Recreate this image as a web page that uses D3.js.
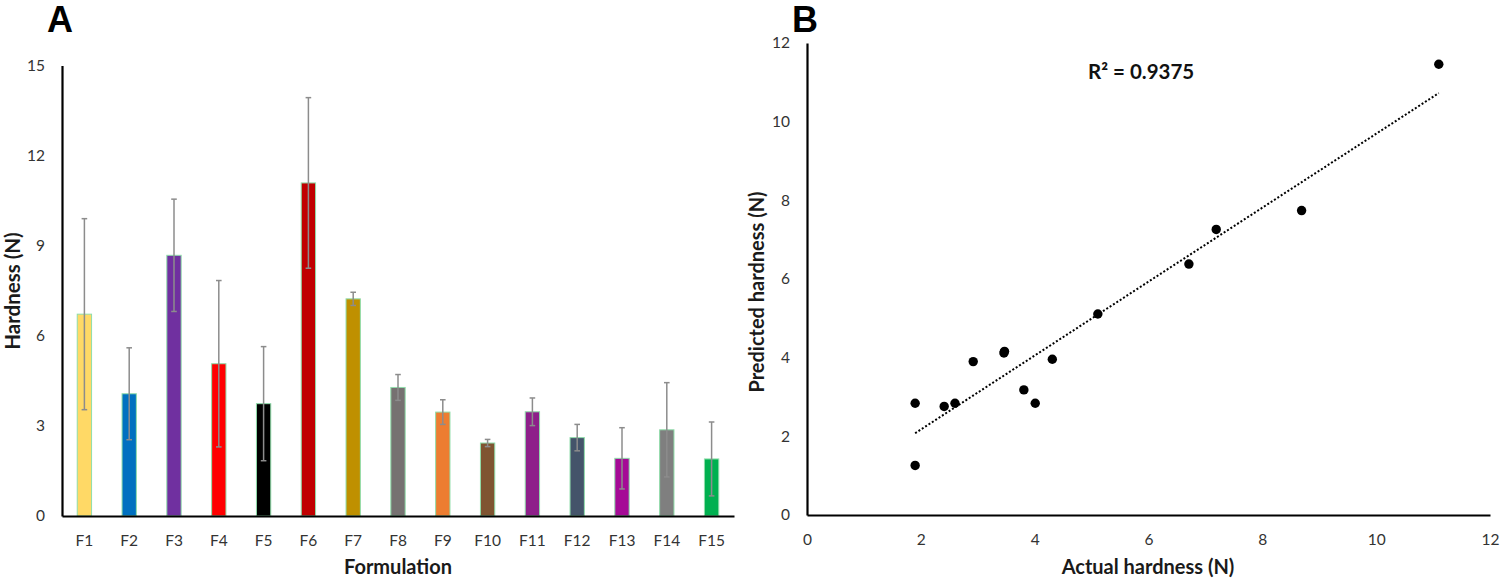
<!DOCTYPE html>
<html><head><meta charset="utf-8">
<script src="https://cdn.jsdelivr.net/npm/d3@7"></script>
<style>
html,body{margin:0;padding:0;background:#fff;}
svg{display:block;font-family:Lato,"Open Sans",sans-serif;}
</style></head>
<body><svg id="c" width="1500" height="579"></svg>
<script>
// ---- Panel A data ----
const formulations = ["F1","F2","F3","F4","F5","F6","F7","F8","F9","F10","F11","F12","F13","F14","F15"];
const hardness = [6.72,4.07,8.68,5.07,3.74,11.09,7.23,4.28,3.46,2.43,3.47,2.61,1.92,2.87,1.90];
const hardnessSD = [3.18,1.53,1.87,2.77,1.90,2.84,0.22,0.43,0.41,0.12,0.46,0.44,1.02,1.57,1.23];
const barColors = ["#FFD966","#0070C0","#7030A0","#FF0000","#000000","#C00000","#BF9000","#767171","#ED7D31","#7F5431","#8E1F8A","#44546A","#A50A96","#7F7F7F","#00B050"];
const yTicksA = [0,3,6,9,12,15];

// ---- Panel B data ----
const actual =    [6.71,4.01,8.69,5.11,3.81,11.10,7.19,4.31,3.46,2.41,3.47,2.60,1.90,2.92,1.90];
const predicted = [6.38,2.84,7.74,5.11,3.18,11.46,7.26,3.96,4.12,2.76,4.16,2.84,2.84,3.90,1.26];
const ticksB = [0,2,4,6,8,10,12];
const r2Label = "R² = 0.9375";

const svg = d3.select("#c");
const tickColor = "#333";

// ================= Panel A =================
const xA = d3.scaleBand().domain(formulations).range([62,734]).paddingInner(0.68).paddingOuter(0.34);
const yA = d3.scaleLinear().domain([0,15]).range([516,65.5]);
const gA = svg.append("g");

gA.selectAll("rect.bar").data(formulations).join("rect")
  .attr("class","bar")
  .attr("x",d=>xA(d)).attr("width",xA.bandwidth())
  .attr("y",(d,i)=>yA(hardness[i])).attr("height",(d,i)=>yA(0)-yA(hardness[i]))
  .attr("fill",(d,i)=>barColors[i]).attr("stroke","#8FDDAA").attr("stroke-width",1);

// error bars
const eb = gA.selectAll("g.eb").data(formulations).join("g").attr("class","eb")
  .attr("stroke","#8C8C8C").attr("stroke-width",1.5);
eb.append("line")
  .attr("x1",d=>xA(d)+xA.bandwidth()/2).attr("x2",d=>xA(d)+xA.bandwidth()/2)
  .attr("y1",(d,i)=>yA(hardness[i]+hardnessSD[i])).attr("y2",(d,i)=>yA(hardness[i]-hardnessSD[i]));
eb.append("line")
  .attr("x1",d=>xA(d)+xA.bandwidth()/2-2.8).attr("x2",d=>xA(d)+xA.bandwidth()/2+2.8)
  .attr("y1",(d,i)=>yA(hardness[i]+hardnessSD[i])).attr("y2",(d,i)=>yA(hardness[i]+hardnessSD[i]));
eb.append("line")
  .attr("x1",d=>xA(d)+xA.bandwidth()/2-2.8).attr("x2",d=>xA(d)+xA.bandwidth()/2+2.8)
  .attr("y1",(d,i)=>yA(hardness[i]-hardnessSD[i])).attr("y2",(d,i)=>yA(hardness[i]-hardnessSD[i]));

const axYA = gA.append("g").attr("transform","translate(62,0)")
  .call(d3.axisLeft(yA).tickValues(yTicksA).tickSize(0).tickSizeOuter(0).tickPadding(17));
const axXA = gA.append("g").attr("transform","translate(0,516)")
  .call(d3.axisBottom(xA).tickSize(0).tickSizeOuter(0).tickPadding(19));
[axYA,axXA].forEach(a=>{
  a.select(".domain").attr("stroke","#000").attr("stroke-width",2.2);
  a.selectAll("text").attr("fill",tickColor).style("font-size","15.5px").style("font-family","Lato,sans-serif");
});

gA.append("text").attr("x",398).attr("y",574).attr("text-anchor","middle")
  .style("font-size","20px").style("font-weight","bold").attr("fill","#1a1a1a").text("Formulation");
gA.append("text").attr("transform","translate(20,291) rotate(-90)").attr("text-anchor","middle")
  .style("font-size","20.5px").style("font-weight","bold").attr("fill","#1a1a1a").text("Hardness (N)");
gA.append("text").attr("x",60).attr("y",32).attr("text-anchor","middle")
  .style("font-size","36px").style("font-weight","bold").style("font-family","'Liberation Sans',Arial,sans-serif").text("A");

// ================= Panel B =================
const xB = d3.scaleLinear().domain([0,12]).range([807,1490]);
const yB = d3.scaleLinear().domain([0,12]).range([515,43]);
const gB = svg.append("g");

const axYB = gB.append("g").attr("transform","translate(807,0)")
  .call(d3.axisLeft(yB).tickValues(ticksB).tickSize(0).tickSizeOuter(0).tickPadding(17));
const axXB = gB.append("g").attr("transform","translate(0,515)")
  .call(d3.axisBottom(xB).tickValues(ticksB).tickSize(0).tickSizeOuter(0).tickPadding(19));
[axYB,axXB].forEach(a=>{
  a.select(".domain").attr("stroke","#000").attr("stroke-width",2.2);
  a.selectAll("text").attr("fill",tickColor).style("font-size","15.5px").style("font-family","Lato,sans-serif");
});

// least-squares trend line
const n = actual.length;
const mx = d3.mean(actual), my = d3.mean(predicted);
let sxy=0,sxx=0;
for(let i=0;i<n;i++){sxy+=(actual[i]-mx)*(predicted[i]-my);sxx+=(actual[i]-mx)**2;}
const slope = sxy/sxx, icpt = my - slope*mx;
const x0 = d3.min(actual), x1 = d3.max(actual);
gB.append("line")
  .attr("x1",xB(x0)).attr("y1",yB(icpt+slope*x0))
  .attr("x2",xB(x1)).attr("y2",yB(icpt+slope*x1))
  .attr("stroke","#000").attr("stroke-width",2).attr("stroke-dasharray","2,2");

gB.selectAll("circle").data(actual).join("circle")
  .attr("cx",d=>xB(d)).attr("cy",(d,i)=>yB(predicted[i])).attr("r",4.7).attr("fill","#000");

gB.append("text").attr("x",1088).attr("y",79)
  .style("font-size","20.5px").style("font-weight","bold").attr("fill","#111").text(r2Label);
gB.append("text").attr("x",1148).attr("y",574).attr("text-anchor","middle")
  .style("font-size","20px").style("font-weight","bold").attr("fill","#1a1a1a").text("Actual hardness (N)");
gB.append("text").attr("transform","translate(764,292) rotate(-90)").attr("text-anchor","middle")
  .style("font-size","20px").style("font-weight","bold").attr("fill","#1a1a1a").text("Predicted hardness (N)");
gB.append("text").attr("x",805).attr("y",32).attr("text-anchor","middle")
  .style("font-size","36px").style("font-weight","bold").style("font-family","'Liberation Sans',Arial,sans-serif").text("B");
</script></body></html>
